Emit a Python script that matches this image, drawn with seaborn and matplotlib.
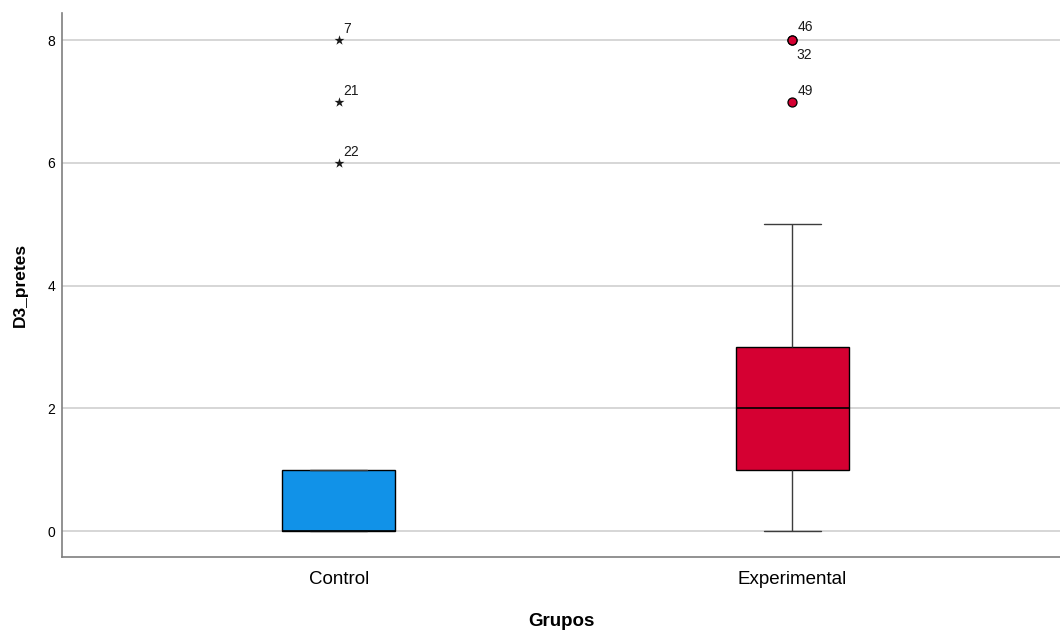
import matplotlib
matplotlib.use("Agg")
import matplotlib.pyplot as plt
import seaborn as sns
import numpy as np
import pandas as pd

# groups and scores per case (cases 1-25 Control, 26-50 Experimental)
groups = ["Control", "Experimental"]
control_scores = [0, 1, 0, 0, 1, 0, 8, 0, 1, 0, 0, 1, 0, 0, 1, 0, 0, 1, 0, 1, 7, 6, 0, 1, 0]
experimental_scores = [2, 1, 3, 0, 2, 4, 8, 1, 3, 2, 1, 5, 2, 3, 1, 0, 2, 3, 1, 4, 8, 2, 3, 7, 1]
yticks = [0, 2, 4, 6, 8]

colors = {"Control": "#1192e8", "Experimental": "#d50032"}
# where the case label goes relative to the point (pixels) for tied values
label_offsets = {46: (5, 6, "bottom"), 32: (4, -8, "top")}

df = pd.DataFrame({
    "case": range(1, len(control_scores) + len(experimental_scores) + 1),
    "Grupos": ["Control"] * len(control_scores) + ["Experimental"] * len(experimental_scores),
    "D3_pretes": control_scores + experimental_scores,
})

# SPSS style outliers: beyond 1.5 IQR is a circle, beyond 3 IQR is a star
rows = []
for g in groups:
    sub = df[df["Grupos"] == g]
    q1, q3 = np.percentile(sub["D3_pretes"], [25, 75])
    iqr = q3 - q1
    for _, r in sub.iterrows():
        v = r["D3_pretes"]
        if v > q3 + 3 * iqr or v < q1 - 3 * iqr:
            rows.append((r["case"], g, v, "extreme"))
        elif v > q3 + 1.5 * iqr or v < q1 - 1.5 * iqr:
            rows.append((r["case"], g, v, "outlier"))
out = pd.DataFrame(rows, columns=["case", "Grupos", "D3_pretes", "kind"])

sns.set_style("white")
plt.rcParams["font.family"] = ["Liberation Sans", "DejaVu Sans"]
plt.rcParams["text.color"] = "black"
plt.rcParams["axes.labelcolor"] = "black"
plt.rcParams["xtick.color"] = "black"
plt.rcParams["ytick.color"] = "black"

fig = plt.figure(figsize=(10.6, 6.31), dpi=100)
ax = fig.add_axes([0.0585, 0.1173, 0.9415, 0.8617])

ax.set_axisbelow(True)
ax.yaxis.grid(True, color="#cfcfcf", linewidth=1.2)

sns.boxplot(data=df, x="Grupos", y="D3_pretes", hue="Grupos", order=groups,
            palette=colors, saturation=1, width=0.25, whis=1.5, showfliers=False,
            linecolor="black", linewidth=1, legend=False, ax=ax,
            whiskerprops={"color": "#3c3c3c"}, capprops={"color": "#3c3c3c"},
            medianprops={"color": "black", "linewidth": 1.2})

ext = out[out["kind"] == "extreme"]
sns.stripplot(data=ext, x="Grupos", y="D3_pretes", order=groups, jitter=False,
              marker="*", color="#1a1a1a", size=7.5, linewidth=0, ax=ax)
olr = out[out["kind"] == "outlier"]
sns.stripplot(data=olr, x="Grupos", y="D3_pretes", order=groups, jitter=False,
              marker="o", color=colors["Experimental"], size=6.5, linewidth=0.9,
              edgecolor="black", ax=ax)

for _, r in out.iterrows():
    xi = groups.index(r["Grupos"])
    dx, dy, va = label_offsets.get(r["case"], (5, 4, "bottom"))
    ax.annotate(str(r["case"]), (xi, r["D3_pretes"]), xytext=(dx, dy),
                textcoords="offset pixels", ha="left", va=va, fontsize=10,
                color="#1a1a1a")

ax.set_xlim(-0.61, 1.59)
ax.set_ylim(-0.42, 8.44)
ax.set_yticks(yticks)
ax.tick_params(axis="both", length=0)
ax.tick_params(axis="y", labelsize=10, pad=5)
ax.tick_params(axis="x", labelsize=13.5, pad=10)

ax.set_xlabel("Grupos", fontsize=13.5, fontweight="bold", labelpad=18)
ax.set_ylabel("D3_pretes", fontsize=12.5, fontweight="bold", labelpad=14)

for s in ["top", "right"]:
    ax.spines[s].set_visible(False)
for s in ["left", "bottom"]:
    ax.spines[s].set_color("#7f7f7f")
    ax.spines[s].set_linewidth(1.2)

fig.savefig("out.png", dpi=100)
